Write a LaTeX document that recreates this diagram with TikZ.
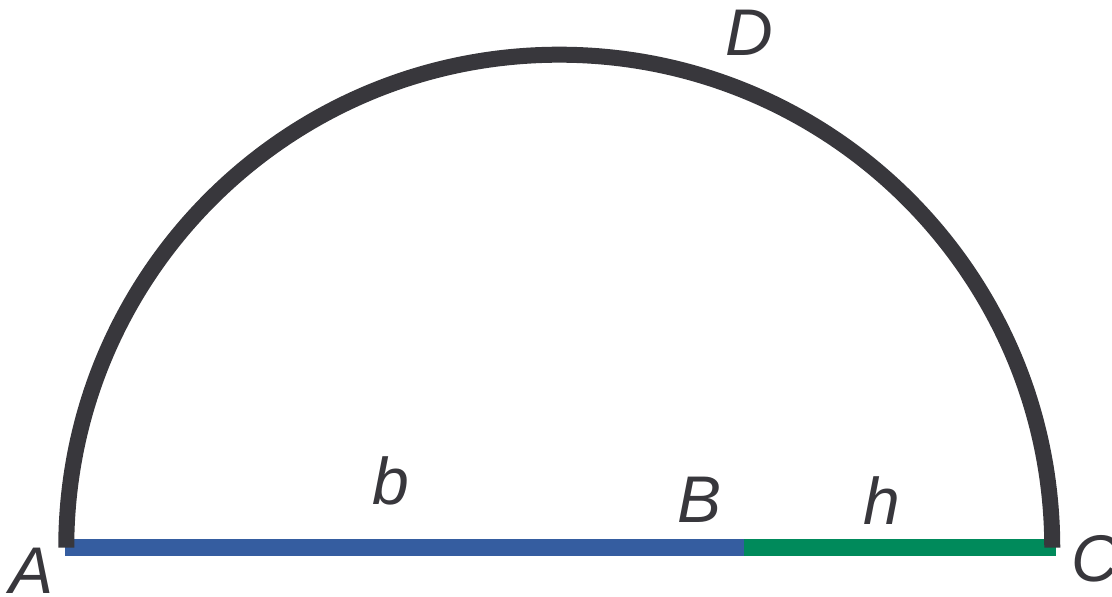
\documentclass[tikz,border=0pt]{standalone}
\usepackage{fontspec}
\setmainfont{Liberation Sans}
\usetikzlibrary{positioning}
\definecolor{ArcGray}{HTML}{38373C}
\definecolor{SegBlue}{HTML}{355DA0}
\definecolor{SegGreen}{HTML}{008A5B}

\begin{document}
\begin{tikzpicture}[x=1pt,y=1pt,
  lbl/.style={inner sep=0pt,anchor=base west,text=ArcGray,
    font=\fontsize{66}{70}\selectfont\itshape},
  seg/.style={line width=16.5pt}
]
\useasboundingbox (0,0) rectangle (1112,597);
\coordinate (O) at (559.25,49.3);
\coordinate (A) at (66.25,49.3);
\coordinate (B) at (744,49.3);
\coordinate (C) at (1052.25,49.3);
\coordinate (Aend) at (65,49.3);
\coordinate (Cend) at (1056,49.3);
\draw[seg,draw=SegBlue] (Aend) -- (B);
\draw[seg,draw=SegGreen] (B) -- (Cend);
\draw[line width=16pt,draw=ArcGray] (A) arc[start angle=180,end angle=0,radius=493];
\node[lbl] (Alabel) at (9,3) {A};
\node[lbl] (Blabel) at (677,74) {B};
\node[lbl] (Clabel) at (1071,15) {C};
\node[lbl] (Dlabel) at (725,541) {D};
\node[lbl] (blabel) at (372,92) {b};
\node[lbl] (hlabel) at (863,72) {h};
\end{tikzpicture}
\end{document}
